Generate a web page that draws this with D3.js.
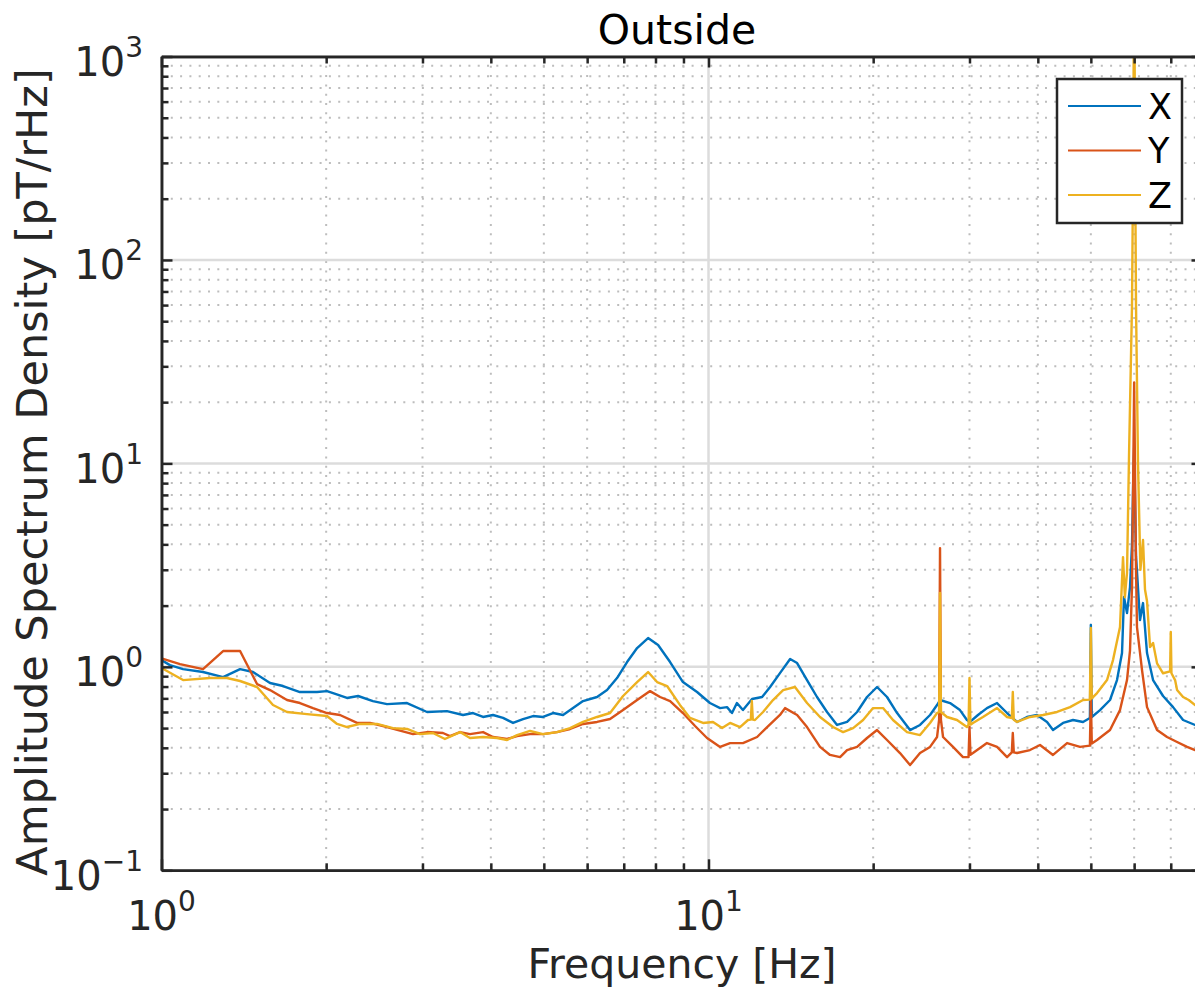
<!DOCTYPE html>
<html><head><meta charset="utf-8">
<script src="https://cdn.jsdelivr.net/npm/d3@7"></script>
<style>
html,body{margin:0;padding:0;background:#fff;overflow:hidden}
svg{display:block;font-family:"DejaVu Sans",sans-serif}
</style></head><body>
<svg id="chart" width="1195" height="991"></svg>
<script>
// ---------- data ----------
const seriesNames = ["X", "Y", "Z"];
const seriesColors = ["#0072BD", "#D95319", "#EDB120"];

// [frequency Hz, amplitude pT/rHz]
const dataX = [[1.00,1.08],[1.036,1.02],[1.095,0.975],[1.191,0.943],[1.296,0.891],[1.392,0.975],[1.470,0.943],[1.579,0.833],[1.668,0.805],[1.791,0.752],[1.924,0.752],[2.007,0.760],[2.059,0.743],[2.183,0.703],[2.288,0.719],[2.435,0.679],[2.584,0.656],[2.811,0.664],[3.058,0.600],[3.325,0.606],[3.559,0.580],[3.711,0.593],[3.871,0.567],[4.037,0.580],[4.211,0.561],[4.392,0.530],[4.581,0.554],[4.778,0.573],[4.983,0.567],[5.197,0.593],[5.421,0.580],[5.654,0.627],[5.897,0.679],[6.255,0.711],[6.524,0.769],[6.804,0.881],[7.098,1.056],[7.404,1.237],[7.754,1.385],[8.088,1.280],[8.507,1.056],[8.979,0.842],[9.530,0.752],[10.06,0.664],[10.50,0.627],[10.81,0.634],[11.04,0.593],[11.27,0.664],[11.56,0.613],[12.01,0.695],[12.53,0.711],[12.96,0.796],[13.51,0.932],[14.10,1.092],[14.52,1.044],[15.14,0.861],[15.79,0.711],[16.47,0.600],[17.18,0.518],[17.92,0.536],[18.69,0.600],[19.49,0.711],[20.33,0.796],[21.20,0.711],[22.12,0.593],[23.36,0.489],[24.36,0.518],[25.41,0.580],[26.17,0.649],[26.50,0.687],[27.64,0.664],[28.82,0.613],[29.68,0.548],[30.06,0.536],[31.09,0.580],[32.29,0.627],[33.69,0.664],[35.14,0.593],[36.65,0.536],[38.22,0.567],[39.86,0.580],[41.58,0.536],[42.64,0.489],[44.48,0.530],[46.39,0.548],[48.38,0.536],[49.80,0.561],[50.0,1.605],[50.2,0.567],[51.97,0.613],[54.20,0.687],[55.82,0.861],[57.01,1.169],[57.49,2.203],[58.22,1.838],[58.96,2.467],[59.46,4.0],[59.75,8.0],[60.0,12.0],[60.25,6.0],[60.47,3.5],[61.50,1.698],[62.28,2.058],[63.34,1.169],[64.97,0.861],[67.76,0.719],[70.68,0.634],[73.72,0.548],[77.54,0.518],[80.0,0.50]];

const dataY = [[1.00,1.10],[1.081,1.032],[1.191,0.975],[1.296,1.196],[1.392,1.196],[1.495,0.823],[1.579,0.769],[1.696,0.687],[1.791,0.664],[1.892,0.627],[2.007,0.593],[2.120,0.580],[2.278,0.530],[2.405,0.530],[2.584,0.506],[2.883,0.467],[3.058,0.478],[3.270,0.473],[3.367,0.457],[3.514,0.478],[3.664,0.467],[3.871,0.478],[4.037,0.452],[4.283,0.442],[4.467,0.457],[4.718,0.467],[4.983,0.467],[5.285,0.478],[5.583,0.495],[5.897,0.524],[6.255,0.536],[6.607,0.554],[6.979,0.613],[7.404,0.687],[7.820,0.760],[8.156,0.711],[8.507,0.679],[8.979,0.593],[9.45,0.512],[9.938,0.447],[10.50,0.404],[10.95,0.422],[11.56,0.422],[12.27,0.452],[12.80,0.506],[13.51,0.580],[13.80,0.627],[14.52,0.580],[15.14,0.506],[15.99,0.404],[16.68,0.369],[17.40,0.360],[17.92,0.390],[18.69,0.404],[19.49,0.447],[20.33,0.489],[21.20,0.437],[22.39,0.377],[23.36,0.329],[24.36,0.377],[25.41,0.404],[26.17,0.452],[26.40,0.55],[26.50,3.835],[26.60,0.55],[26.84,0.452],[27.99,0.404],[29.19,0.360],[29.88,0.36],[30.0,0.506],[30.12,0.37],[30.44,0.377],[32.29,0.422],[33.69,0.404],[35.14,0.360],[35.85,0.38],[36.0,0.473],[36.15,0.38],[36.65,0.377],[38.70,0.390],[40.37,0.413],[42.64,0.369],[45.24,0.422],[47.78,0.404],[49.80,0.41],[50.0,0.711],[50.2,0.42],[51.32,0.437],[54.20,0.489],[56.53,0.613],[58.22,0.861],[58.96,1.2],[59.46,2.5],[59.75,8],[60.0,25],[60.25,8],[60.47,3],[60.72,1.569],[62.02,0.964],[63.34,0.634],[66.07,0.489],[68.91,0.452],[71.88,0.427],[74.97,0.404],[77.54,0.390],[80.0,0.385]];

const dataZ = [[1.00,0.987],[1.095,0.861],[1.226,0.881],[1.317,0.881],[1.392,0.852],[1.495,0.796],[1.599,0.649],[1.696,0.600],[1.845,0.586],[2.007,0.573],[2.094,0.524],[2.183,0.506],[2.307,0.524],[2.477,0.524],[2.650,0.500],[2.811,0.495],[2.969,0.467],[3.135,0.473],[3.297,0.442],[3.514,0.478],[3.664,0.447],[3.871,0.452],[4.106,0.447],[4.283,0.437],[4.467,0.462],[4.718,0.484],[4.983,0.467],[5.285,0.478],[5.583,0.500],[5.897,0.536],[6.255,0.567],[6.607,0.593],[6.979,0.719],[7.404,0.842],[7.754,0.943],[8.054,0.842],[8.400,0.805],[8.866,0.65],[9.251,0.561],[9.772,0.530],[10.19,0.536],[10.59,0.500],[10.95,0.530],[11.42,0.506],[11.81,0.548],[11.95,0.55],[12.0,0.679],[12.05,0.55],[12.16,0.548],[12.58,0.600],[13.12,0.687],[13.69,0.769],[14.39,0.796],[15.14,0.664],[15.99,0.567],[16.89,0.506],[17.62,0.478],[18.38,0.500],[19.17,0.548],[19.99,0.627],[20.85,0.627],[21.74,0.548],[23.06,0.478],[24.36,0.462],[25.41,0.530],[26.17,0.593],[26.40,0.60],[26.50,2.305],[26.60,0.60],[27.29,0.567],[28.46,0.548],[29.68,0.506],[29.88,0.52],[30.0,0.881],[30.12,0.52],[30.44,0.530],[31.75,0.567],[33.69,0.627],[35.14,0.567],[35.85,0.56],[36.0,0.752],[36.15,0.55],[36.65,0.536],[38.70,0.567],[40.88,0.580],[43.37,0.600],[45.81,0.634],[48.38,0.687],[49.80,0.69],[50.0,1.551],[50.2,0.70],[51.32,0.743],[53.52,0.861],[54.89,1.080],[56.53,1.569],[57.25,3.46],[57.7,2.2],[58.22,2.9],[58.72,11],[59.46,60],[59.75,300],[60.0,3000],[60.25,300],[60.47,60],[60.98,10],[61.6,3.0],[62.28,4.2],[62.8,2.4],[63.34,2.1],[64.15,1.25],[64.97,1.309],[66.07,1.04],[67.76,0.93],[69.8,0.95],[70.0,1.483],[70.2,0.93],[71.28,0.861],[71.88,0.77],[73.72,0.711],[75.5,0.687],[77.54,0.649],[80.0,0.64]];

const xDomain = [1, 80];
const yDomain = [0.1, 1000];
const xMajor = [1, 10];
const xMajorExp = ["0", "1"];
const yMajor = [0.1, 1, 10, 100, 1000];
const yMajorExp = ["\u22121", "0", "1", "2", "3"];
const titleText = "Outside";
const xLabelText = "Frequency [Hz]";
const yLabelText = "Amplitude Spectrum Density [pT/rHz]";

// ---------- layout ----------
const L = 161.5, R = 1202.5, T = 56.5, B = 870.3;
const svg = d3.select("#chart");
const x = d3.scaleLog().domain(xDomain).range([L, R]);
const y = d3.scaleLog().domain(yDomain).range([B, T]);
const isPow10 = v => Math.abs(Math.log10(v) - Math.round(Math.log10(v))) < 1e-9;
const xMinor = x.ticks().filter(v => !isPow10(v));
const yMinor = y.ticks().filter(v => !isPow10(v));
const axisColor = "#262626";

// grid
const grid = svg.append("g");
grid.selectAll(".vmin").data(xMinor).join("line")
  .attr("x1", d => x(d)).attr("x2", d => x(d)).attr("y1", T).attr("y2", B)
  .attr("stroke", "#bdbdbd").attr("stroke-width", 2).attr("stroke-dasharray", "2,7.3");
grid.selectAll(".hmin").data(yMinor).join("line")
  .attr("x1", L).attr("x2", R).attr("y1", d => y(d)).attr("y2", d => y(d))
  .attr("stroke", "#bdbdbd").attr("stroke-width", 2).attr("stroke-dasharray", "2,7.3");
grid.selectAll(".vmaj").data(xMajor).join("line")
  .attr("x1", d => x(d)).attr("x2", d => x(d)).attr("y1", T).attr("y2", B)
  .attr("stroke", "#dcdcdc").attr("stroke-width", 2.5);
grid.selectAll(".hmaj").data(yMajor).join("line")
  .attr("x1", L).attr("x2", R).attr("y1", d => y(d)).attr("y2", d => y(d))
  .attr("stroke", "#dcdcdc").attr("stroke-width", 2.5);

// data
svg.append("clipPath").attr("id", "clip").append("rect")
  .attr("x", L).attr("y", T).attr("width", R - L).attr("height", B - T);
const line = d3.line().x(d => x(d[0])).y(d => y(d[1]));
const allData = [dataX, dataY, dataZ];
svg.append("g").attr("clip-path", "url(#clip)")
  .selectAll("path").data(allData).join("path")
  .attr("d", line).attr("fill", "none")
  .attr("stroke", (d, i) => seriesColors[i]).attr("stroke-width", 2.4)
  .attr("stroke-linejoin", "round");

// axes (ticks inward on all four sides)
function styleAxis(g) {
  g.select(".domain").attr("stroke", axisColor).attr("stroke-width", 2.5);
  g.selectAll(".tick line").attr("stroke", axisColor).attr("stroke-width", 2.5);
  g.selectAll(".tick text").remove();
}
const mk = (axisFn, scale, vals, len, tr) => {
  svg.append("g").attr("transform", tr)
    .call(axisFn(scale).tickValues(vals).tickSizeInner(-len).tickSizeOuter(0).tickFormat(""))
    .call(styleAxis);
};
mk(d3.axisBottom, x, xMinor, 7, `translate(0,${B})`);
mk(d3.axisBottom, x, xMajor, 11, `translate(0,${B})`);
mk(d3.axisTop, x, xMinor, 7, `translate(0,${T})`);
mk(d3.axisTop, x, xMajor, 11, `translate(0,${T})`);
mk(d3.axisLeft, y, yMinor, 7, `translate(${L},0)`);
mk(d3.axisLeft, y, yMajor, 11, `translate(${L},0)`);
mk(d3.axisRight, y, yMinor, 7, `translate(${R},0)`);
mk(d3.axisRight, y, yMajor, 11, `translate(${R},0)`);

// tick labels
const xl = svg.append("g").selectAll("text").data(xMajor).join("text")
  .attr("x", d => x(d)).attr("y", 930).attr("text-anchor", "middle")
  .attr("fill", axisColor).attr("font-size", 40);
xl.append("tspan").text("10");
xl.append("tspan").attr("dy", -19).attr("font-size", 28).text((d, i) => xMajorExp[i]);

const yl = svg.append("g").selectAll("text").data(yMajor).join("text")
  .attr("x", 143).attr("y", d => y(d) + 19.5).attr("text-anchor", "end")
  .attr("fill", axisColor).attr("font-size", 40);
yl.append("tspan").text("10");
yl.append("tspan").attr("dy", -19).attr("font-size", 28).text((d, i) => yMajorExp[i]);

// axis titles
svg.append("text").attr("x", 677).attr("y", 44).attr("text-anchor", "middle")
  .attr("font-size", 41).attr("fill", "#000").text(titleText);
svg.append("text").attr("x", (L + R) / 2).attr("y", 978).attr("text-anchor", "middle")
  .attr("font-size", 41).attr("fill", axisColor).text(xLabelText);
svg.append("text").attr("transform", `translate(47,472) rotate(-90)`)
  .attr("text-anchor", "middle").attr("font-size", 43).attr("fill", axisColor).text(yLabelText);

// legend
const lg = svg.append("g");
lg.append("rect").attr("x", 1057).attr("y", 79).attr("width", 125).attr("height", 144)
  .attr("fill", "#fff").attr("stroke", axisColor).attr("stroke-width", 2.5);
const rows = lg.selectAll(".row").data(seriesNames).join("g")
  .attr("transform", (d, i) => `translate(0,${106 + i * 44.5})`);
rows.append("line").attr("x1", 1068).attr("x2", 1141).attr("y1", 0).attr("y2", 0)
  .attr("stroke", (d, i) => seriesColors[i]).attr("stroke-width", 2);
rows.append("text").attr("x", 1148).attr("y", 12.5).attr("font-size", 35)
  .attr("fill", "#000").text(d => d);
</script>
</body></html>
